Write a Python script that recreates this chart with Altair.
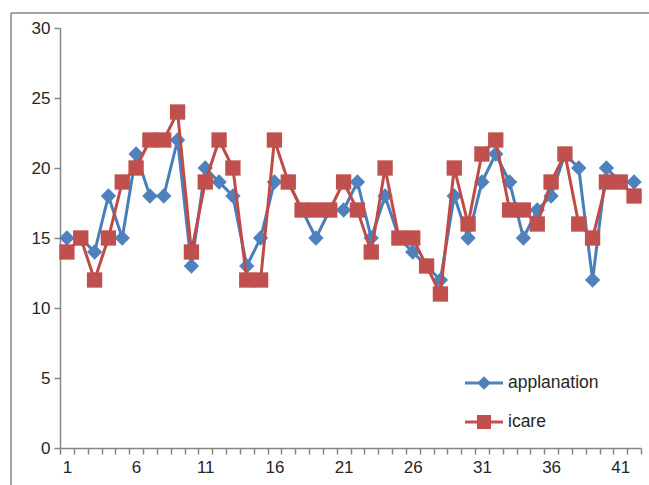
import altair as alt
import pandas as pd

# ---- data ----
days = list(range(1, 43))
applanation = [15, 15, 14, 18, 15, 21, 18, 18, 22, 13, 20, 19, 18, 13, 15, 19, 19, 17, 15, 17, 17,
               19, 15, 18, 15, 14, 13, 12, 18, 15, 19, 21, 19, 15, 17, 18, 21, 20, 12, 20, 19, 19]
icare = [14, 15, 12, 15, 19, 20, 22, 22, 24, 14, 19, 22, 20, 12, 12, 22, 19, 17, 17, 17, 19,
         17, 14, 20, 15, 15, 13, 11, 20, 16, 21, 22, 17, 17, 16, 19, 21, 16, 15, 19, 19, 18]
series_names = ["applanation", "icare"]
y_ticks = [0, 5, 10, 15, 20, 25, 30]

line_colors = ["#4A7EBB", "#BE4B48"]
marker_colors = ["#4F81BD", "#C0504D"]
marker_shapes = ["diamond", "square"]

df = pd.DataFrame({
    "day": days * 2,
    "value": applanation + icare,
    "series": ["applanation"] * len(days) + ["icare"] * len(days),
})

W, H = 581, 420
AX = "#868686"
TXT = "#262626"
FONT = "Liberation Sans"

x_enc = alt.X(
    "day:Q",
    scale=alt.Scale(domain=[0.5, 42.5], nice=False, zero=False),
    axis=alt.Axis(
        values=[0.5 + k for k in range(43)],
        labelExpr="datum.value % 5 == 0.5 ? format(datum.value + 0.5, 'd') : ''",
        labelOffset=W / 42 / 2,
        labelFlush=False,
        labelOverlap=False,
        labelPadding=5,
        tickSize=6,
        title=None,
        grid=False,
    ),
)
y_enc = alt.Y(
    "value:Q",
    scale=alt.Scale(domain=[0, 30], nice=False),
    axis=alt.Axis(values=y_ticks, tickSize=6, labelPadding=4, title=None, grid=False),
)

layers = []
for name, lc, mc, shp in zip(series_names, line_colors, marker_colors, marker_shapes):
    sub = alt.Chart(df).transform_filter(alt.datum.series == name)
    layers.append(sub.mark_line(color=lc, strokeWidth=3).encode(x=x_enc, y=y_enc))
    layers.append(
        sub.mark_point(shape=shp, filled=True, color=mc, size=235, opacity=1).encode(x=x_enc, y=y_enc)
    )

# legend layer (draws nothing, only provides the legend)
line_diamond = "M-1,-0.08L1,-0.08L1,0.08L-1,0.08Z M0,-0.36L0.36,0L0,0.36L-0.36,0Z"
line_square = "M-1,-0.08L1,-0.08L1,0.08L-1,0.08Z M-0.37,-0.37L0.37,-0.37L0.37,0.37L-0.37,0.37Z"
legend_props = dict(
    orient="none", legendX=405, legendY=336, title=None,
    symbolSize=1444, symbolStrokeWidth=0,
    labelFont=FONT, labelFontSize=17.5, labelColor=TXT, labelOffset=5,
    rowPadding=11, labelLimit=300,
)
legend_layer = alt.Chart(df).transform_filter("datum.value > 1000").mark_point(filled=True, opacity=1).encode(
    x=x_enc,
    y=y_enc,
    color=alt.Color(
        "series:N",
        scale=alt.Scale(domain=series_names, range=marker_colors),
        legend=alt.Legend(**legend_props),
    ),
    shape=alt.Shape(
        "series:N",
        scale=alt.Scale(domain=series_names, range=[line_diamond, line_square]),
        legend=alt.Legend(**legend_props),
    ),
)

frame_src = alt.Chart(pd.DataFrame({"f": [0]}))
frame_left = frame_src.mark_rule(color=AX, strokeWidth=1.5).encode(
    x=alt.value(-49), y=alt.value(-15), y2=alt.value(H + 40)
)
frame_top = frame_src.mark_rule(color=AX, strokeWidth=1.5).encode(
    x=alt.value(-49), x2=alt.value(W + 10), y=alt.value(-15)
)

chart = alt.layer(frame_left, frame_top, *layers, legend_layer).properties(
    width=W,
    height=H,
    autosize=alt.AutoSizeParams(type="none"),
    padding={"left": 60, "top": 28, "right": 8, "bottom": 37},
).configure_view(stroke=None).configure_axis(
    domainColor=AX, domainWidth=1.5, tickColor=AX, tickWidth=1.5,
    labelFont=FONT, labelFontSize=17, labelColor=TXT,
)

chart.save("out.html", embed_options={"renderer": "svg", "actions": False})
